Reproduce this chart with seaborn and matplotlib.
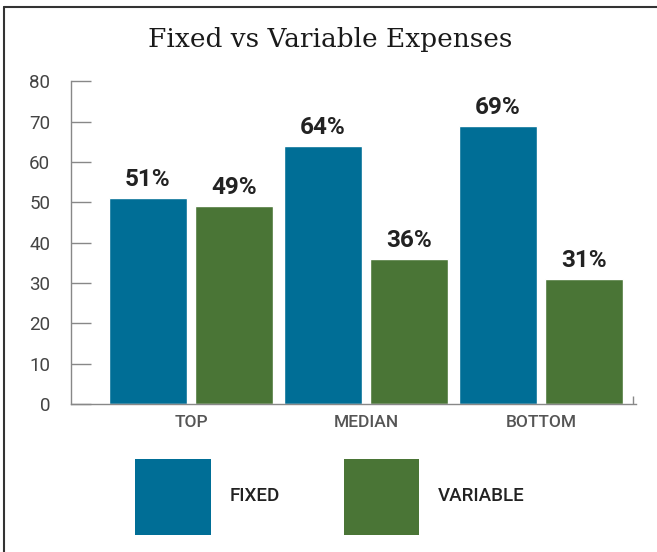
import pandas as pd
import matplotlib.pyplot as plt
import seaborn as sns
from matplotlib.patches import Patch
from matplotlib.lines import Line2D

# === Dados ===
grupos = ['TOP', 'MEDIAN', 'BOTTOM']
fixo = [51, 64, 69]
variavel = [49, 36, 31]
series = ['FIXED', 'VARIABLE']
cores = ['#006E96', '#4A7536']

df = pd.DataFrame({
    'grupo': grupos * 2,
    'valor': fixo + variavel,
    'tipo': [series[0]] * 3 + [series[1]] * 3,
})

sns.set_style('white')
plt.rcParams['font.family'] = ['Roboto', 'DejaVu Sans']

fig = plt.figure(figsize=(6.57, 5.52), dpi=100)
ax = fig.add_axes([0.108, 0.268, 0.860, 0.585])

sns.barplot(data=df, x='grupo', y='valor', hue='tipo', palette=cores,
            width=0.984, gap=0.0935, saturation=1, legend=False, ax=ax)

# rótulos das barras
for cont in ax.containers:
    ax.bar_label(cont, fmt='%d%%', padding=5, fontsize=17.5, fontweight='bold',
                 color='#222222')

ax.set_xlim(-0.686, 2.543)
ax.set_ylim(0, 80)
ax.set_yticks(range(0, 81, 10))
ax.set_xlabel('')
ax.set_ylabel('')

for s in ['top', 'right']:
    ax.spines[s].set_visible(False)
for s in ['left', 'bottom']:
    ax.spines[s].set_color('#888888')
    ax.spines[s].set_linewidth(1)

ax.tick_params(axis='y', left=True, direction='in', length=14.5, width=1,
               color='#888888', pad=15, labelsize=13.5, labelcolor='#444444')
ax.tick_params(axis='x', length=0, pad=8)
for t in ax.get_xticklabels():
    t.set_fontsize(12.5)
    t.set_fontweight('medium')
    t.set_color('#555555')

# pequena marca no fim do eixo x
ax.set_xticks([2.525], minor=True)
ax.tick_params(axis='x', which='minor', bottom=True, direction='in', length=6,
               width=1, color='#888888')

# título
fig.text(0.502, 0.928, 'Fixed vs Variable Expenses', ha='center', va='center',
         fontsize=19, family=['DejaVu Serif'], color='#1a1a1a')

# legenda
handles = [Patch(facecolor=c, edgecolor='none') for c in cores]
leg = fig.legend(handles, series, loc='center', bbox_to_anchor=(0.502, 0.10),
                 ncol=2, frameon=False, handlelength=4.05, handleheight=5.87,
                 handletextpad=1.0, columnspacing=3.4,
                 prop={'family': 'Roboto', 'size': 13.5, 'weight': 'medium'})
for t in leg.get_texts():
    t.set_color('#222222')

# moldura (topo e esquerda)
fig.add_artist(Line2D([0.006, 1.0], [0.987, 0.987], color='#333333', lw=1.5,
                      transform=fig.transFigure))
fig.add_artist(Line2D([0.006, 0.006], [0.0, 0.987], color='#333333', lw=1.5,
                      transform=fig.transFigure))

fig.savefig('out.png', dpi=100)
